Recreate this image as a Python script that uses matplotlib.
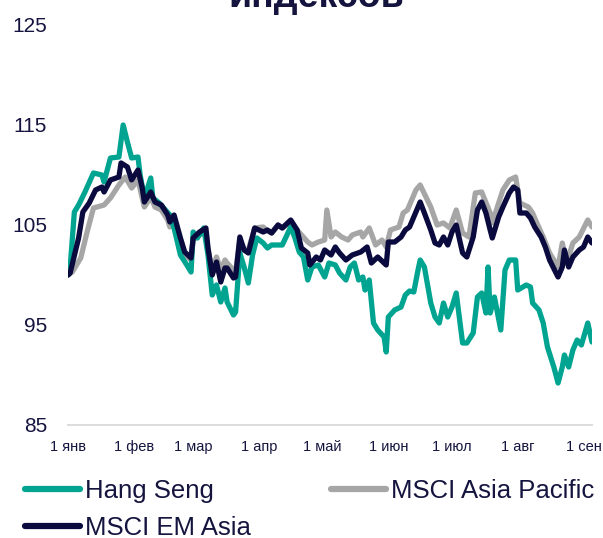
import matplotlib
matplotlib.use("Agg")
import matplotlib.pyplot as plt
import pandas as pd

# ---- data (day offsets from 1 Jan 2018, index level, start = 100) ----
hs_days = [0, 1, 3, 5, 8, 12, 16, 17, 20, 24, 26, 28, 30, 33, 34, 36, 39, 40, 43, 48,
           50, 53, 56, 58, 59, 61, 64, 66, 68, 70, 72, 74, 75, 78, 79, 81, 83, 85, 87, 89,
           92, 94, 96, 99, 101, 105, 107, 109, 111, 113, 115, 118, 121, 123, 126, 128, 131, 133, 135, 137,
           139, 140, 142, 144, 146, 149, 150, 151, 154, 157, 159, 161, 163, 165, 166, 168, 171, 173, 175, 177,
           179, 181, 183, 186, 188, 191, 193, 195, 197, 198, 199, 201, 204, 206, 208, 211, 212, 216, 218, 219,
           222, 224, 226, 229, 231, 233, 234, 236, 238, 240, 242, 245, 247]
hs_vals = [100.0, 100.7, 106.3, 107.0, 108.3, 110.2, 110.0, 109.3, 111.7, 111.8, 115.0, 113.3, 111.7, 111.8, 110.0, 107.7, 109.7, 107.7, 107.2, 106.0,
           104.7, 102.0, 101.0, 100.3, 104.3, 103.7, 104.7, 102.0, 98.0, 99.0, 97.3, 98.7, 97.3, 96.0, 96.3, 102.2, 100.8, 99.2, 102.0, 103.7,
           103.2, 102.7, 103.0, 103.0, 103.0, 104.8, 103.7, 102.3, 101.8, 99.5, 100.8, 101.0, 99.8, 101.2, 101.0, 100.2, 99.5, 100.8, 101.2, 99.5,
           99.8, 98.5, 99.5, 95.2, 94.5, 93.8, 92.3, 95.8, 96.5, 96.8, 98.0, 98.4, 98.3, 100.5, 101.5, 100.8, 97.2, 95.8, 95.2, 97.2,
           95.8, 96.8, 98.2, 93.2, 93.2, 94.2, 97.8, 98.2, 96.2, 100.8, 96.2, 97.8, 94.5, 100.5, 101.5, 101.5, 98.5, 99.0, 98.8, 97.2,
           96.5, 95.2, 92.8, 90.8, 89.2, 90.8, 92.0, 90.8, 92.5, 93.5, 93.0, 95.2, 93.3]

ap_days = [0, 2, 6, 9, 12, 17, 20, 24, 27, 30, 33, 36, 39, 41, 44, 47, 48, 50, 53, 55,
           58, 59, 62, 65, 66, 68, 70, 72, 74, 75, 78, 79, 81, 83, 85, 88, 92, 94, 96, 99,
           101, 105, 108, 113, 115, 118, 121, 122, 124, 126, 129, 132, 134, 138, 139, 142, 145, 148, 150, 152,
           156, 158, 160, 164, 166, 171, 174, 177, 180, 183, 186, 189, 192, 195, 199, 200, 203, 205, 208, 211,
           213, 217, 219, 221, 224, 227, 231, 233, 235, 238, 241, 245, 247]
ap_vals = [100.0, 100.3, 101.7, 104.3, 106.7, 107.0, 107.7, 109.0, 109.8, 108.7, 109.5, 106.8, 107.8, 106.8, 106.5, 105.5, 104.8, 105.5, 103.2, 102.0,
           101.5, 103.5, 104.0, 104.3, 102.5, 100.5, 101.8, 100.5, 101.5, 101.2, 100.5, 100.3, 103.5, 102.5, 102.5, 104.7, 104.8, 104.4, 104.2, 105.0,
           104.7, 105.3, 104.5, 103.3, 103.0, 103.3, 103.5, 106.5, 103.8, 104.3, 103.8, 103.5, 104.0, 104.3, 103.8, 104.7, 103.0, 103.5, 102.8, 104.5,
           104.8, 106.2, 106.5, 108.5, 109.0, 106.8, 105.0, 105.2, 104.7, 106.5, 104.2, 103.8, 108.2, 108.3, 106.2, 105.2, 107.2, 108.5, 109.5, 109.8,
           107.2, 106.8, 106.2, 105.2, 103.8, 102.2, 100.8, 103.2, 101.2, 103.2, 103.8, 105.5, 104.8]

em_days = [0, 1, 5, 7, 10, 13, 16, 17, 20, 24, 25, 28, 30, 33, 35, 36, 39, 41, 44, 47,
           48, 50, 53, 55, 58, 59, 62, 65, 66, 68, 70, 72, 74, 75, 78, 79, 81, 83, 85, 88,
           92, 94, 96, 99, 101, 105, 108, 110, 113, 114, 117, 119, 121, 124, 126, 128, 131, 134, 138, 141,
           143, 146, 150, 151, 154, 157, 159, 161, 163, 165, 166, 168, 171, 173, 175, 177, 179, 181, 183, 186,
           188, 191, 193, 195, 197, 199, 200, 203, 205, 208, 210, 212, 213, 216, 218, 220, 223, 225, 227, 231,
           233, 234, 236, 238, 241, 243, 245, 247]
em_vals = [100.0, 100.2, 103.7, 106.3, 107.2, 108.5, 108.8, 108.3, 109.5, 109.8, 111.2, 110.8, 109.5, 110.5, 108.7, 107.3, 108.3, 107.3, 107.0, 106.0,
           105.3, 106.0, 103.7, 102.3, 101.7, 103.7, 104.3, 104.7, 102.7, 100.0, 101.3, 99.3, 100.7, 100.7, 99.7, 99.8, 103.8, 102.5, 102.2, 104.7,
           104.3, 104.5, 104.2, 105.0, 104.7, 105.5, 104.5, 102.7, 102.2, 101.0, 101.8, 101.5, 102.5, 102.0, 102.8, 102.2, 101.5, 102.0, 102.3, 102.8,
           101.2, 101.8, 101.0, 103.3, 103.3, 103.8, 104.5, 104.8, 105.8, 106.8, 107.3, 106.2, 104.5, 103.2, 103.0, 103.8, 103.0, 104.3, 105.0, 102.2,
           101.8, 103.8, 106.5, 107.3, 106.2, 104.5, 103.7, 105.8, 106.8, 108.2, 108.8, 108.5, 106.2, 106.2, 105.7, 104.8, 103.8, 102.8, 101.5, 99.8,
           100.8, 102.5, 100.8, 101.8, 102.5, 102.8, 103.8, 103.2]

month_starts = ["2018-01-01", "2018-02-01", "2018-03-01", "2018-04-01", "2018-05-01",
                "2018-06-01", "2018-07-01", "2018-08-01", "2018-09-01"]
month_labels = ["1 янв", "1 фев", "1 мар", "1 апр", "1 май", "1 июн", "1 июл", "1 авг", "1 сен"]
y_ticks = [85, 95, 105, 115, 125]

series_names = ["Hang Seng", "MSCI Asia Pacific", "MSCI EM Asia"]
colors = ["#00A491", "#A6A6A6", "#0A0A3F"]
TEXT = "#14143F"

base = pd.Timestamp("2018-01-01")
def to_dates(days):
    return base + pd.to_timedelta(days, unit="D")

plt.rcParams["font.family"] = ["Liberation Sans", "DejaVu Sans"]

fig = plt.figure(figsize=(6.03, 5.38), dpi=100)
ax = fig.add_axes([68 / 603, 1 - 425 / 538, (592 - 68) / 603, 400 / 538])

kw = dict(lw=3.8, solid_joinstyle="round", solid_capstyle="round")
l_hs, = ax.plot(to_dates(hs_days), hs_vals, color=colors[0], zorder=2, **kw)
l_ap, = ax.plot(to_dates(ap_days), ap_vals, color=colors[1], zorder=1, **kw)
l_em, = ax.plot(to_dates(em_days), em_vals, color=colors[2], zorder=3, **kw)

ax.set_xlim(base, base + pd.Timedelta(days=247))
ax.set_ylim(85, 125)
ax.set_yticks(y_ticks)
ax.set_yticklabels([str(v) for v in y_ticks], fontsize=15, color=TEXT)
ax.set_xticks(pd.to_datetime(month_starts))
ax.set_xticklabels(month_labels, fontsize=10.5, color=TEXT)
ax.tick_params(axis="y", length=0, pad=15)
ax.tick_params(axis="x", length=0, pad=11)
for s in ["top", "right", "left"]:
    ax.spines[s].set_visible(False)
ax.spines["bottom"].set_color("#D9D9D9")
ax.spines["bottom"].set_linewidth(1.3)

fig.text(316 / 603, 1 - 7 / 538, "индексов", ha="center", va="baseline",
         fontsize=27, fontweight="bold", color=TEXT)

leg = fig.legend([l_hs, l_em, l_ap], [series_names[0], series_names[2], series_names[1]],
                 ncol=2, loc="upper left", bbox_to_anchor=(25 / 603, 1 - 479 / 538),
                 frameon=False, fontsize=18.5, handlelength=2.15, handletextpad=0.2,
                 columnspacing=3.1, labelspacing=0.5, borderaxespad=0, borderpad=0)
for t in leg.get_texts():
    t.set_color(TEXT)
for h in leg.legend_handles:
    h.set_linewidth(4.5)

fig.savefig("out.png", dpi=100)
